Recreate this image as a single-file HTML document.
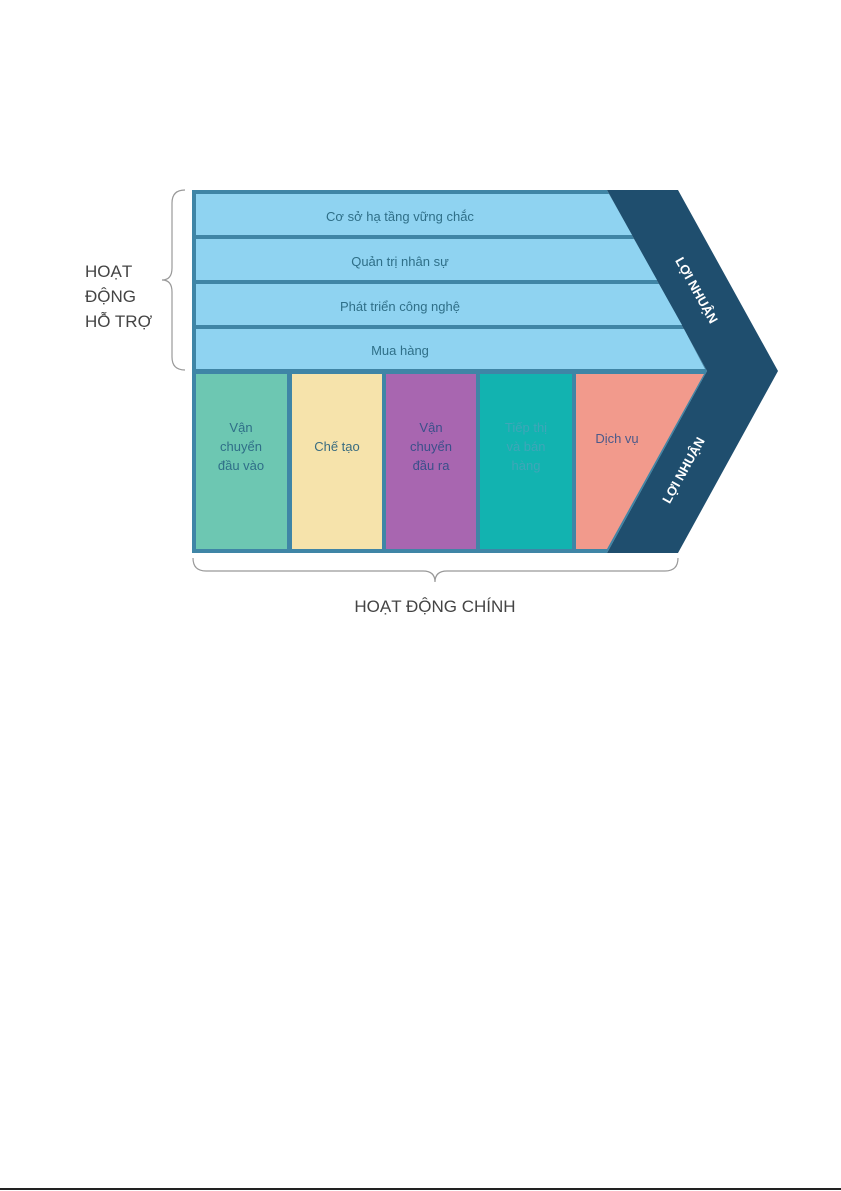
<!DOCTYPE html>
<html><head><meta charset="utf-8"><style>html,body{margin:0;padding:0;background:#fff}svg{display:block}</style></head>
<body>
<svg width="841" height="1191" viewBox="0 0 841 1191" xmlns="http://www.w3.org/2000/svg" font-family="Liberation Sans, DejaVu Sans, sans-serif">
<rect width="841" height="1191" fill="#fff"/>
<!-- frame -->
<polygon points="192,190 607,190 707,371 607,553 192,553" fill="#3f85a6"/>
<!-- dark chevron -->
<polygon points="607,190 678,190 778,371 678,553 607,553 707,371" fill="#1f4e6e"/>
<!-- support rows -->
<polygon points="196,194 609,194 632,235 196,235" fill="#8fd3f1"/>
<polygon points="196,239 634,239 657,280 196,280" fill="#8fd3f1"/>
<polygon points="196,284 659,284 682,325 196,325" fill="#8fd3f1"/>
<polygon points="196,329 684,329 705,369 196,369" fill="#8fd3f1"/>
<!-- primary columns -->
<rect x="196" y="374" width="91" height="175" fill="#6dc7b2"/>
<rect x="292" y="374" width="90" height="175" fill="#f6e3ab"/>
<rect x="386" y="374" width="90" height="175" fill="#a866b0"/>
<rect x="480" y="374" width="92" height="175" fill="#12b3b0"/>
<polygon points="576,374 704,374 607,549 576,549" fill="#f29a8c"/>
<g font-size="13" fill="#2f6f88" text-anchor="middle">
<text x="400" y="221">Cơ sở hạ tầng vững chắc</text>
<text x="400" y="266">Quản trị nhân sự</text>
<text x="400" y="311">Phát triển công nghệ</text>
<text x="400" y="355">Mua hàng</text>
<text x="241" y="432">Vận</text><text x="241" y="451">chuyển</text><text x="241" y="470">đầu vào</text>
<text x="337" y="451" fill="#3a6c80">Chế tạo</text>
<text x="431" y="432" fill="#3b4f8a">Vận</text><text x="431" y="451" fill="#3b4f8a">chuyển</text><text x="431" y="470" fill="#3b4f8a">đầu ra</text>
<text x="526" y="432" fill="#3fa6b8">Tiếp thị</text><text x="526" y="451" fill="#3fa6b8">và bán</text><text x="526" y="470" fill="#3fa6b8">hàng</text>
<text x="617" y="443" fill="#4b5a8a">Dịch vụ</text>
</g>
<g font-size="13" font-weight="bold" fill="#fff" text-anchor="middle">
<text transform="translate(697,290) rotate(61)" y="5">LỢI NHUẬN</text>
<text transform="translate(683,470) rotate(-61)" y="5">LỢI NHUẬN</text>
</g>
<!-- braces -->
<path d="M185,190 Q172,190 172,203 L172,268 Q172,280 162,280 Q172,280 172,292 L172,357 Q172,370 185,370" fill="none" stroke="#999" stroke-width="1.2"/>
<path d="M193,558 Q193,571 206,571 L423,571 Q435,571 435,582 Q435,571 447,571 L665,571 Q678,571 678,558" fill="none" stroke="#999" stroke-width="1.2"/>
<g font-size="17" fill="#444">
<text x="85" y="277">HOẠT</text>
<text x="85" y="302">ĐỘNG</text>
<text x="85" y="327">HỖ TRỢ</text>
<text x="435" y="612" text-anchor="middle">HOẠT ĐỘNG CHÍNH</text>
</g>
<line x1="0" y1="1189" x2="841" y2="1189" stroke="#222" stroke-width="2"/>
</svg>
</body></html>
